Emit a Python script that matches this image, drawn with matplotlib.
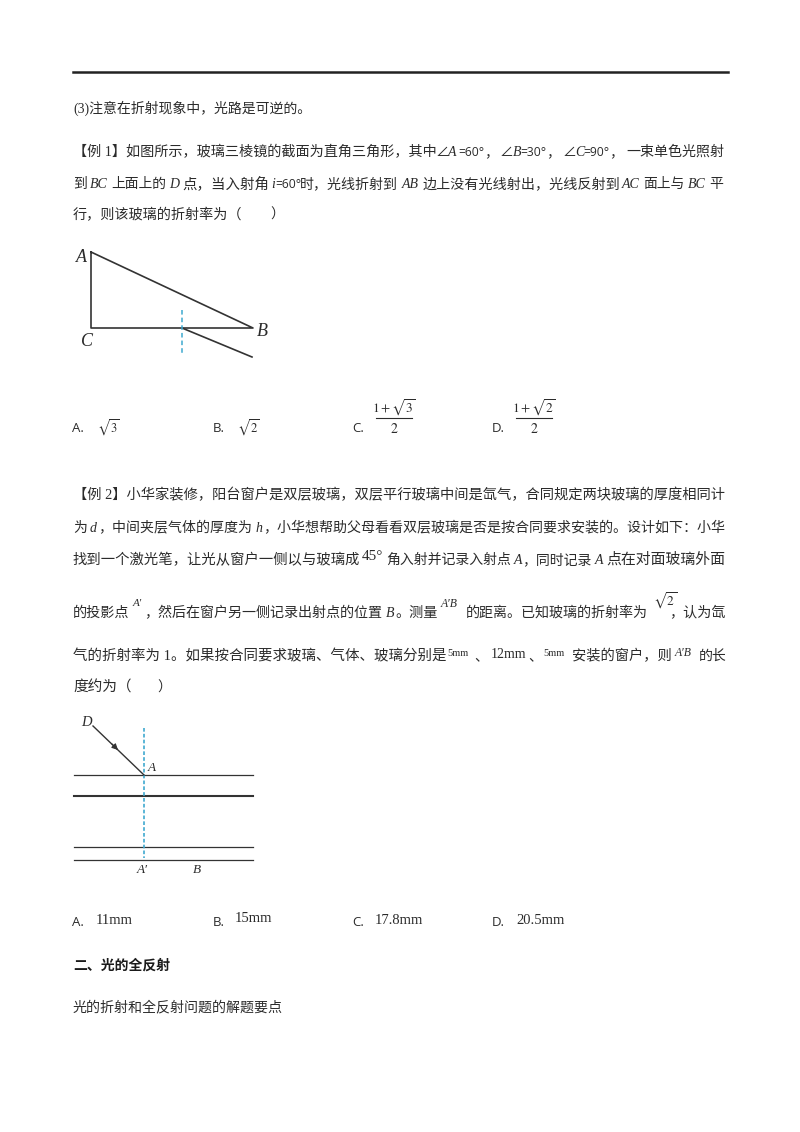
import matplotlib
matplotlib.use('Agg')
import matplotlib.pyplot as plt

plt.rcParams['mathtext.fontset'] = 'stix'
SERIF = ['Liberation Serif', 'Noto Sans CJK SC', 'DejaVu Sans']
INK = '#2b2b2b'
BLUE = '#3fa9d0'

# page text, one list per printed line
LINE_NOTE = ["(3)注意在折射现象中，光路是可逆的。"]
EX1_LINE1 = ["【例 1】如图所示，玻璃三棱镜的截面为直角三角形，其中", "∠", "A", "=60°", "，", "∠", "B", "=30°", "，", "∠", "C", "=90°", "，", "一束单色光照射"]
EX1_LINE2 = ["到", "BC", "上面上的", "D", "点，当入射角", "i", "=60°", "时，光线折射到", "AB", "边上没有光线射出，光线反射到", "AC", "面上与", "BC", "平"]
EX1_LINE3 = ["行，则该玻璃的折射率为（", "）"]
EX2_LINE1 = ["【例 2】小华家装修，阳台窗户是双层玻璃，双层平行玻璃中间是氙气，合同规定两块玻璃的厚度相同计"]
EX2_LINE2 = ["为", "d", "，中间夹层气体的厚度为", "h", "，小华想帮助父母看看双层玻璃是否是按合同要求安装的。设计如下：小华"]
EX2_LINE3 = ["找到一个激光笔，让光从窗户一侧以与玻璃成", "角入射并记录入射点", "A", "，同时记录", "A", "点在对面玻璃外面"]
EX2_LINE4 = ["的投影点", "，然后在窗户另一侧记录出射点的位置", "B", "。测量", "的距离。已知玻璃的折射率为", "，认为氙"]
EX2_LINE5 = ["气的折射率为 1。如果按合同要求玻璃、气体、玻璃分别是", "、", "、", "安装的窗户，则", "的长"]
EX2_LINE6 = ["度约为（", "）"]
HEADING = "二、光的全反射"
LAST_LINE = "光的折射和全反射问题的解题要点"
OPTION_KEYS = ["A.", "B.", "C.", "D."]
EX2_OPTIONS = ["11mm", "15mm", "17.8mm", "20.5mm"]
ITALIC = {"A", "B", "C", "D", "BC", "AB", "AC", "i", "d", "h"}
SANS_RUNS = {"=60°", "=30°", "=90°"}

# triangle diagram
TRI_X = [91, 91, 253, 91]
TRI_Y = [252, 328, 328, 252]
RAY_X = [182, 252]
RAY_Y = [328, 357]
# window diagram
GLASS_Y = [775, 796, 847, 860]
GLASS_W = [0.9, 1.5, 0.9, 0.9]

fig = plt.figure(figsize=(8, 11.32), dpi=100)
ax = fig.add_axes([0, 0, 1, 1])
ax.set_xlim(0, 800)
ax.set_ylim(1132, 0)
ax.axis('off')
renderer = fig.canvas.get_renderer()


def zx(v):
    return 73 + (v - 30) * 0.4338


def put(s, x0, y, x1=None, size=10, **kw):
    kw.setdefault('family', SERIF)
    kw.setdefault('color', INK)
    kw.setdefault('va', 'center')
    if s in ITALIC:
        kw['style'] = 'italic'
    t = ax.text(x0, y, s, ha='left', fontsize=size, **kw)
    if x1 is not None:
        w = t.get_window_extent(renderer).width
        t.set_fontsize(size * min(1.08, max(0.92, (x1 - x0) / w)))
    return t


def line(y, texts, spans, raw=False):
    # y is the middle of the Chinese glyphs, baseline sits 5px lower
    for s, (a, b) in zip(texts, spans):
        x0, x1 = (a, b) if raw else (zx(a), zx(b))
        if s in SANS_RUNS:
            put(s, x0, y + 5, x1=x1, size=9.5, va='baseline', family='Open Sans')
        else:
            put(s, x0, y + 5, x1=x1 if len(s) > 2 else None, va='baseline')


ax.plot([73, 728], [72, 72], color='#222222', lw=1.8)

line(108, LINE_NOTE, [(30, 580)])
line(151, EX1_LINE1, [(73, 436), (436, 447), (448, 457), (458, 483), (484, 498), (500, 511), (513, 520),
                      (520, 545), (546, 561), (563, 574), (575, 583), (583, 608), (609, 624), (626, 724)], raw=True)
line(183, EX1_LINE2, [(30, 60), (68, 108), (118, 245), (252, 272), (282, 482), (487, 495), (497, 553),
                      (553, 778), (787, 828), (836, 1290), (1296, 1338), (1345, 1440), (1447, 1490), (1497, 1530)])
line(214, EX1_LINE3, [(30, 420), (485, 505)])

# triangle figure
ax.plot(TRI_X, TRI_Y, color='#333333', lw=1.2)
ax.plot(RAY_X, RAY_Y, color='#333333', lw=1.2)
ax.plot([182, 182], [310, 353], color=BLUE, lw=1.1, ls=(0, (3, 2)))
put("A", 76, 257, size=13, family='Liberation Serif')
put("C", 81, 341, size=13, family='Liberation Serif')
put("B", 257, 331, size=13, family='Liberation Serif')


def option_key(k, x, y):
    ax.text(x, y, k, fontsize=9.5, family='Open Sans', va='center', color=INK)


def frac(num, x0, x1):
    ax.text((x0 + x1) / 2, 408, num, fontsize=9.5, ha='center', va='center', color=INK)
    ax.plot([x0, x1], [418, 418], color=INK, lw=0.8)
    ax.text((x0 + x1) / 2, 429, "$2$", fontsize=10, ha='center', va='center', color=INK)


for k, x in zip(OPTION_KEYS, [72, 213, 352, 492]):
    option_key(k, x, 429)
ax.text(97, 428, r"$\sqrt{3}$", fontsize=9, va='center', color=INK)
ax.text(237, 428, r"$\sqrt{2}$", fontsize=9, va='center', color=INK)
frac(r"$1+\sqrt{3}$", 376, 412)
frac(r"$1+\sqrt{2}$", 516, 552)

line(494, EX2_LINE1, [(30, 1535)])
line(527, EX2_LINE2, [(30, 60), (68, 88), (88, 442), (450, 468), (468, 1535)])
line(559, EX2_LINE3, [(30, 690), (752, 1040), (1047, 1065), (1065, 1225), (1232, 1250), (1260, 1535)])
line(612, EX2_LINE4, [(30, 160), (195, 745), (752, 772), (772, 870), (935, 1355), (1405, 1535)])
line(655, EX2_LINE5, [(30, 888), (955, 985), (1080, 1110), (1180, 1410), (1472, 1535)])
line(687, EX2_LINE6, [(30, 165), (225, 245)])

# inline formula pieces, set higher and smaller than the running text
put("45°", zx(695), 556, size=11)
put("A′", zx(167), 604, size=8, style='italic')
put("A′B", zx(878), 604, size=8.5, style='italic')
ax.text(653, 601, r"$\sqrt{2}$", fontsize=9.5, va='center', color=INK)
put("5mm", zx(893), 653, size=7.5)
put("12mm", zx(993), 654, size=10)
put("5mm", zx(1115), 653, size=7.5)
put("A′B", zx(1418), 653, size=8.5, style='italic')

# window figure
for y, w in zip(GLASS_Y, GLASS_W):
    ax.plot([74, 253], [y, y], color='#333333', lw=w)
ax.plot([144, 144], [728, 858], color=BLUE, lw=1.2, ls=(0, (2.2, 1.3)))
ax.plot([93, 144], [726, 775], color='#333333', lw=1.0)
ax.annotate("", xy=(120, 752), xytext=(110, 742),
            arrowprops=dict(arrowstyle='-|>', color='#333333', lw=0.8, mutation_scale=9))
put("D", 81, 723, size=10.5, family='Liberation Serif')
put("A", 148, 768, size=9.5, family='Liberation Serif')
put("A′", 137, 870, size=9.5, family='Liberation Serif', style='italic')
put("B", 193, 870, size=9.5, family='Liberation Serif')

for k, x in zip(OPTION_KEYS, [72, 213, 352, 492]):
    option_key(k, x, 922)
for s, x, y in zip(EX2_OPTIONS, [96, 235, 375, 516], [921, 919, 920, 920]):
    put(s, x, y, size=10.5)

put(HEADING, 73, 966, x1=170, family='Noto Sans CJK SC', fontweight='bold', color='#1a1a1a')
put(LAST_LINE, 73, 1007, x1=283, family='Noto Sans CJK SC')

fig.savefig('out.png', dpi=100)
